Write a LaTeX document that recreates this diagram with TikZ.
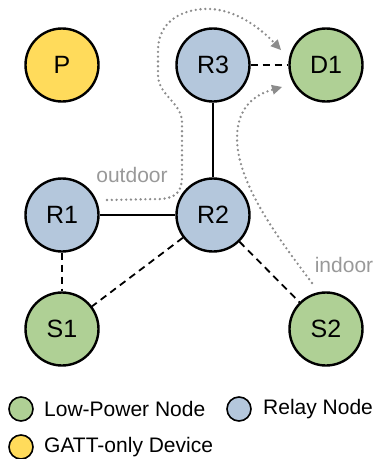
\documentclass[tikz,border=0pt]{standalone}
\usepackage{fontspec}
\setmainfont{Liberation Sans}
\usetikzlibrary{arrows.meta}
\definecolor{relayblue}{HTML}{B4C7DC}
\definecolor{lpgreen}{HTML}{AFD095}
\definecolor{gattyellow}{HTML}{FFDB5B}
\definecolor{pathgray}{HTML}{8C8C8C}
\definecolor{labelgray}{HTML}{999999}
\tikzset{
  dev/.style={circle, draw=black, line width=2.4pt, minimum size=73pt, inner sep=0pt, font=\fontsize{25}{25}\selectfont},
  relay/.style={dev, fill=relayblue},
  lowpow/.style={dev, fill=lpgreen},
  gatt/.style={dev, fill=gattyellow},
  legcirc/.style={circle, draw=black, line width=1.6pt, minimum size=24pt, inner sep=0pt},
  legtext/.style={anchor=west, font=\fontsize{21}{21}\selectfont, inner sep=0pt},
  link/.style={line width=1.8pt},
  weak/.style={line width=1.8pt, dash pattern=on 7pt off 5pt},
  route/.style={draw=pathgray, line width=2.6pt, line cap=round, dash pattern=on 0pt off 4.8pt, -{Triangle[length=10pt, width=10pt, fill=pathgray, line width=0pt]}},
  routelabel/.style={text=labelgray, font=\fontsize{21}{21}\selectfont, inner sep=0pt}
}
\begin{document}
\begin{tikzpicture}[x=1pt, y=-1pt]
\useasboundingbox (0,0) rectangle (374,459);
\node[gatt] (P) at (62,65) {P};
\node[relay] (R3) at (213,65) {R3};
\node[lowpow] (D1) at (326,65) {D1};
\node[relay] (R1) at (62,215) {R1};
\node[relay] (R2) at (213,215) {R2};
\node[lowpow] (S1) at (62,329) {S1};
\node[lowpow] (S2) at (326,329) {S2};
\draw[link] (R1) -- (R2);
\draw[link] (R2) -- (R3);
\draw[weak] (R3) -- (D1);
\draw[weak] (R1) -- (S1);
\draw[weak] (R2) -- (S1);
\draw[weak] (R2) -- (S2);
% routes
\coordinate (o1) at (107,200);
\coordinate (o2) at (281,50);
\coordinate (i1) at (312,283);
\coordinate (i2) at (282,87);
\draw[route] (o1) -- (160,199) .. controls (178,198) and (182,190) .. (182,175) -- (182,122) .. controls (182,103) and (158,95) .. (158,75) -- (158,50) .. controls (158,22) and (182,8) .. (210,9) .. controls (238,10) and (262,30) .. (o2);
\draw[route] (i1) .. controls (282,243) and (237,185) .. (237,138) .. controls (237,112) and (250,96) .. (i2);
\node[routelabel] (lout) at (132,175) {outdoor};
\node[routelabel] (lin) at (344,265) {indoor};
% legend
\node[legcirc, fill=lpgreen] (lg1) at (21,409) {};
\node[legtext] (lt1) at (44,409) {Low-Power Node};
\node[legcirc, fill=relayblue] (lg2) at (239,409) {};
\node[legtext] (lt2) at (263,409) {Relay Node};
\node[legcirc, fill=gattyellow] (lg3) at (21,447) {};
\node[legtext] (lt3) at (44,447) {GATT-only Device};
\end{tikzpicture}
\end{document}
